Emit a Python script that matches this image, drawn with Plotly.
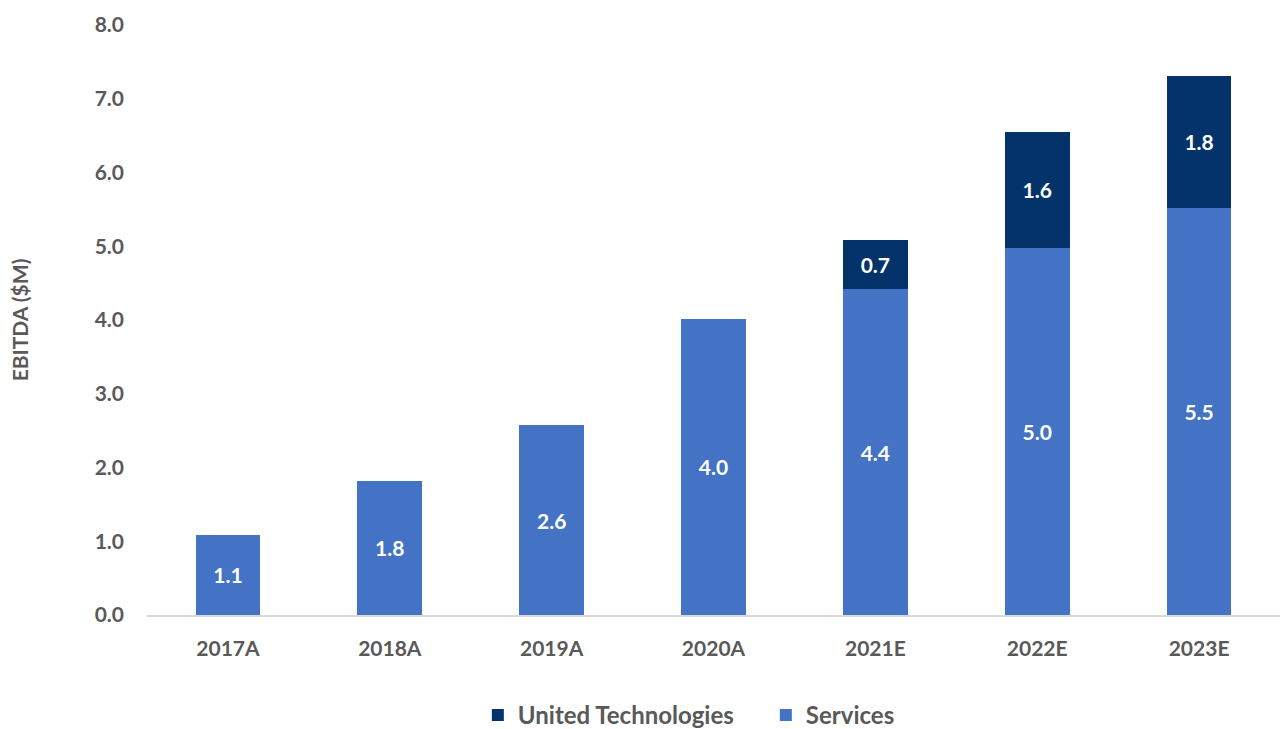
import plotly.graph_objects as go

# EBITDA by year, split into segments ($M)
years = ["2017A", "2018A", "2019A", "2020A", "2021E", "2022E", "2023E"]
services = [1.09, 1.82, 2.57, 4.02, 4.42, 4.98, 5.52]
united_tech = [None, None, None, None, 0.67, 1.57, 1.79]

y_ticks = [0, 1, 2, 3, 4, 5, 6, 7, 8]

TEXT_GREY = "#595959"
FONT = "Lato"

label_font = dict(color="white", size=21, family=FONT, weight="bold")

fig = go.Figure()
fig.add_trace(go.Bar(
    name="Services",
    x=years,
    y=services,
    marker=dict(color="#4472C4", line=dict(width=0)),
    texttemplate="%{y:.1f}",
    textposition="inside",
    insidetextanchor="middle",
    textfont=label_font,
    textangle=0,
))
fig.add_trace(go.Bar(
    name="United Technologies",
    x=years,
    y=united_tech,
    marker=dict(color="#03336A", line=dict(width=0)),
    texttemplate="%{y:.1f}",
    textposition="inside",
    insidetextanchor="middle",
    textfont=label_font,
    textangle=0,
))

fig.update_layout(
    barmode="stack",
    bargap=0.6,
    width=1280,
    height=729,
    margin=dict(l=147, r=0, t=25, b=114, autoexpand=False),
    plot_bgcolor="white",
    paper_bgcolor="white",
    font=dict(family=FONT, color=TEXT_GREY, size=21, weight="bold"),
    showlegend=True,
    legend=dict(
        orientation="h",
        traceorder="reversed",
        x=0.292,
        xanchor="left",
        y=-0.17,
        yanchor="middle",
        font=dict(size=24, color=TEXT_GREY, family=FONT, weight="bold"),
        itemwidth=30,
        entrywidth=243,
        entrywidthmode="pixels",
    ),
    xaxis=dict(
        showline=True,
        linecolor="#D9D9D9",
        linewidth=2,
        ticks="",
        tickfont=dict(size=21, color=TEXT_GREY, family=FONT, weight="bold"),
        ticklabelstandoff=14,
        automargin=False,
    ),
    yaxis=dict(
        range=[0, 8],
        tickvals=y_ticks,
        tickformat=".1f",
        showgrid=False,
        zeroline=False,
        showline=False,
        ticks="",
        tickfont=dict(size=21, color=TEXT_GREY, family=FONT, weight="bold"),
        ticklabelstandoff=22,
        automargin=False,
        title=dict(
            text="EBITDA ($M)",
            font=dict(size=21, color=TEXT_GREY, family=FONT, weight="bold"),
            standoff=60,
        ),
    ),
)

fig.write_html("out.html")
